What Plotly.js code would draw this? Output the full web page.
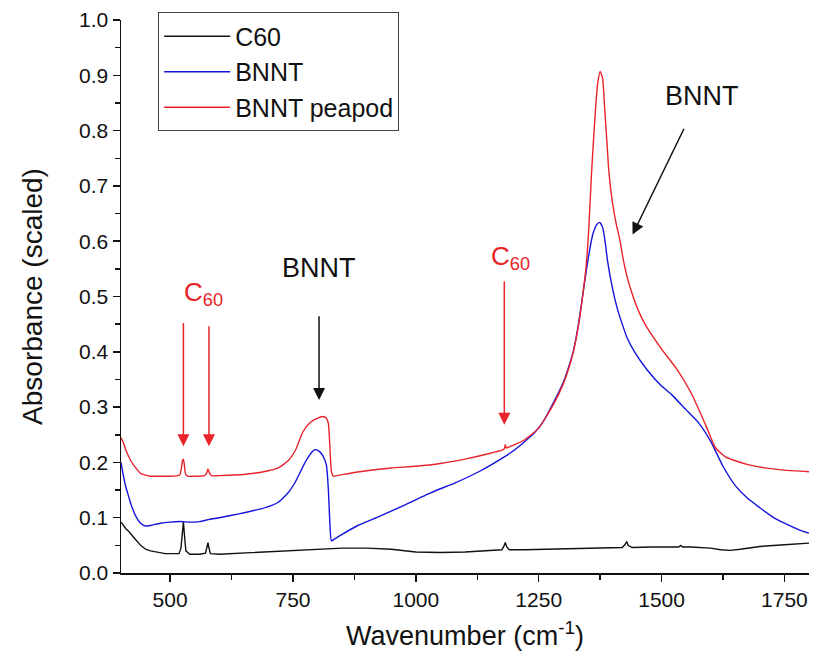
<!DOCTYPE html>
<html>
<head>
<meta charset="utf-8">
<script src="https://cdn.plot.ly/plotly-3.0.1.min.js"></script>
<style>html,body{margin:0;padding:0;background:#fff;}#chart{width:817px;height:667px;}</style>
</head>
<body>
<div id="chart"></div>
<script>
// Series names
const seriesNames = ['C60', 'BNNT', 'BNNT peapod'];

// C60
const c60X = [400, 405, 410, 415, 420, 430, 440, 450, 460, 475, 490, 505, 518, 522, 525, 527, 529, 532, 540, 560, 572, 575, 577, 579, 582, 600, 650, 700, 750, 800, 850, 900, 950, 1000, 1050, 1100, 1150, 1175, 1179, 1182, 1185, 1190, 1220, 1260, 1300, 1350, 1400, 1420, 1426, 1429, 1432, 1440, 1480, 1520, 1535, 1539, 1543, 1560, 1600, 1620, 1640, 1660, 1700, 1750, 1800];
const c60Y = [0.092, 0.085, 0.080, 0.076, 0.070, 0.060, 0.050, 0.043, 0.040, 0.037, 0.035, 0.035, 0.035, 0.045, 0.085, 0.092, 0.070, 0.040, 0.034, 0.034, 0.036, 0.048, 0.055, 0.045, 0.035, 0.034, 0.036, 0.038, 0.041, 0.043, 0.045, 0.045, 0.043, 0.038, 0.037, 0.038, 0.040, 0.042, 0.048, 0.055, 0.047, 0.042, 0.042, 0.043, 0.044, 0.045, 0.046, 0.046, 0.052, 0.057, 0.050, 0.046, 0.047, 0.047, 0.047, 0.050, 0.047, 0.047, 0.045, 0.042, 0.041, 0.043, 0.048, 0.051, 0.054];

// BNNT
const bnntX = [400, 405, 410, 415, 420, 425, 430, 440, 450, 460, 480, 500, 520, 540, 560, 580, 600, 640, 680, 700, 720, 740, 755, 770, 780, 790, 795, 800, 810, 818, 822, 825, 828, 832, 850, 880, 920, 970, 1030, 1080, 1130, 1180, 1200, 1240, 1260, 1280, 1300, 1310, 1320, 1330, 1340, 1350, 1360, 1368, 1374, 1380, 1385, 1390, 1400, 1410, 1420, 1430, 1445, 1470, 1500, 1520, 1550, 1575, 1600, 1625, 1650, 1675, 1700, 1725, 1750, 1780, 1800];
const bnntY = [0.200, 0.175, 0.155, 0.140, 0.125, 0.113, 0.103, 0.090, 0.085, 0.086, 0.090, 0.092, 0.093, 0.092, 0.093, 0.097, 0.100, 0.107, 0.115, 0.120, 0.128, 0.145, 0.165, 0.192, 0.208, 0.220, 0.223, 0.222, 0.213, 0.195, 0.150, 0.090, 0.058, 0.060, 0.070, 0.085, 0.100, 0.120, 0.145, 0.163, 0.184, 0.210, 0.222, 0.252, 0.275, 0.308, 0.345, 0.370, 0.400, 0.445, 0.505, 0.565, 0.612, 0.630, 0.634, 0.625, 0.600, 0.565, 0.515, 0.478, 0.450, 0.425, 0.400, 0.368, 0.338, 0.323, 0.295, 0.272, 0.238, 0.193, 0.158, 0.135, 0.118, 0.102, 0.090, 0.078, 0.072];

// BNNT peapod
const peapodX = [400, 405, 410, 420, 430, 440, 450, 460, 480, 500, 515, 520, 523, 525, 527, 529, 531, 535, 550, 570, 574, 577, 580, 584, 600, 650, 700, 720, 740, 755, 770, 785, 800, 810, 818, 822, 825, 828, 832, 850, 900, 950, 1000, 1050, 1100, 1150, 1175, 1180, 1182, 1184, 1190, 1220, 1250, 1280, 1300, 1310, 1320, 1330, 1340, 1347, 1352, 1357, 1362, 1366, 1370, 1375, 1380, 1384, 1388, 1393, 1400, 1408, 1415, 1422, 1430, 1442, 1455, 1469, 1500, 1530, 1560, 1590, 1610, 1630, 1650, 1680, 1710, 1750, 1800];
const peapodY = [0.245, 0.235, 0.222, 0.203, 0.190, 0.180, 0.177, 0.175, 0.175, 0.175, 0.176, 0.178, 0.190, 0.203, 0.206, 0.195, 0.180, 0.175, 0.175, 0.176, 0.180, 0.188, 0.181, 0.176, 0.176, 0.178, 0.185, 0.190, 0.203, 0.222, 0.255, 0.272, 0.280, 0.283, 0.280, 0.270, 0.230, 0.185, 0.175, 0.178, 0.185, 0.190, 0.193, 0.198, 0.206, 0.216, 0.222, 0.225, 0.232, 0.226, 0.228, 0.240, 0.262, 0.305, 0.342, 0.367, 0.398, 0.443, 0.505, 0.560, 0.625, 0.715, 0.790, 0.844, 0.885, 0.907, 0.895, 0.844, 0.790, 0.723, 0.670, 0.630, 0.603, 0.567, 0.535, 0.500, 0.470, 0.446, 0.405, 0.370, 0.326, 0.267, 0.226, 0.210, 0.203, 0.195, 0.190, 0.186, 0.183];

// Tick labels
const xTickVals = [500, 750, 1000, 1250, 1500, 1750];
const xTickText = ['500', '750', '1000', '1250', '1500', '1750'];
const yTickVals = [0, 0.1, 0.2, 0.3, 0.4, 0.5, 0.6, 0.7, 0.8, 0.9, 1.0];
const yTickText = ['0.0', '0.1', '0.2', '0.3', '0.4', '0.5', '0.6', '0.7', '0.8', '0.9', '1.0'];

const FONT = 'Liberation Sans, Arial, sans-serif';
const colors = ['#111111', '#1414dc', '#e8232a'];

const traces = [
  {x: c60X, y: c60Y, name: seriesNames[0], type: 'scatter', mode: 'lines', line: {color: colors[0], width: 1.4}},
  {x: bnntX, y: bnntY, name: seriesNames[1], type: 'scatter', mode: 'lines', line: {color: colors[1], width: 1.4, shape: 'spline', smoothing: 0.5}},
  {x: peapodX, y: peapodY, name: seriesNames[2], type: 'scatter', mode: 'lines', line: {color: colors[2], width: 1.4, shape: 'spline', smoothing: 0.5}}
];

function arrow(x, y, ay, color) {
  return {x: x, y: y, ax: x, ay: ay, axref: 'x', ayref: 'y', xref: 'x', yref: 'y', text: '', showarrow: true,
    arrowhead: 2, arrowsize: 1.6, arrowwidth: 1.5, arrowcolor: color, standoff: 0};
}

const annotations = [
  {x: 525, y: 0.505, xref: 'x', yref: 'y', xanchor: 'left', yanchor: 'middle', showarrow: false,
   text: 'C<sub>60</sub>', font: {family: FONT, size: 26, color: '#e8232a'}},
  arrow(527, 0.229, 0.455, '#e8232a'),
  arrow(579, 0.229, 0.449, '#e8232a'),
  {x: 802, y: 0.552, xref: 'x', yref: 'y', xanchor: 'center', yanchor: 'middle', showarrow: false,
   text: 'BNNT', font: {family: FONT, size: 27, color: '#111'}},
  arrow(803, 0.313, 0.467, '#111'),
  {x: 1148, y: 0.57, xref: 'x', yref: 'y', xanchor: 'left', yanchor: 'middle', showarrow: false,
   text: 'C<sub>60</sub>', font: {family: FONT, size: 26, color: '#e8232a'}},
  arrow(1180, 0.268, 0.530, '#e8232a'),
  {x: 1582, y: 0.862, xref: 'x', yref: 'y', xanchor: 'center', yanchor: 'middle', showarrow: false,
   text: 'BNNT', font: {family: FONT, size: 27, color: '#111'}},
  {x: 1441, y: 0.612, ax: 1547, ay: 0.806, axref: 'x', ayref: 'y', xref: 'x', yref: 'y', text: '', showarrow: true,
   arrowhead: 2, arrowsize: 1.6, arrowwidth: 1.5, arrowcolor: '#111', standoff: 0}
];

const layout = {
  width: 817, height: 667,
  margin: {l: 121, r: 8, t: 20, b: 94, pad: 0},
  paper_bgcolor: '#ffffff', plot_bgcolor: '#ffffff',
  font: {family: FONT, color: '#111'},
  showlegend: true,
  legend: {x: 0.054, y: 1.0136, xanchor: 'left', yanchor: 'top', bgcolor: '#ffffff', bordercolor: '#444', borderwidth: 1,
    font: {family: FONT, size: 25, color: '#111'}, tracegroupgap: 0, itemwidth: 66},
  xaxis: {range: [400, 1800], showline: true, linecolor: '#111', linewidth: 1.5, mirror: false,
    tickmode: 'array', tickvals: xTickVals, ticktext: xTickText, ticks: 'outside', ticklen: 7, tickwidth: 1.5, tickcolor: '#111',
    minor: {tickmode: 'array', tickvals: [625, 875, 1125, 1375, 1625], ticks: 'outside', ticklen: 5, tickwidth: 1.5, tickcolor: '#111', showgrid: false},
    showgrid: false, zeroline: false, tickfont: {family: FONT, size: 21, color: '#111'},
    title: {text: 'Wavenumber (cm<sup>-1</sup>)', font: {family: FONT, size: 27, color: '#111'}, standoff: 16}},
  yaxis: {range: [0, 1], showline: true, linecolor: '#111', linewidth: 1.5, mirror: false,
    tickmode: 'array', tickvals: yTickVals, ticktext: yTickText, ticks: 'outside', ticklen: 7, tickwidth: 1.5, tickcolor: '#111',
    minor: {tickmode: 'array', tickvals: [0.05, 0.15, 0.25, 0.35, 0.45, 0.55, 0.65, 0.75, 0.85, 0.95], ticks: 'outside', ticklen: 5, tickwidth: 1.5, tickcolor: '#111', showgrid: false},
    showgrid: false, zeroline: false, tickfont: {family: FONT, size: 21, color: '#111'},
    title: {text: 'Absorbance (scaled)', font: {family: FONT, size: 28, color: '#111'}, standoff: 28}},
  annotations: annotations
};

Plotly.newPlot('chart', traces, layout, {displayModeBar: false, staticPlot: true});
</script>
</body>
</html>
